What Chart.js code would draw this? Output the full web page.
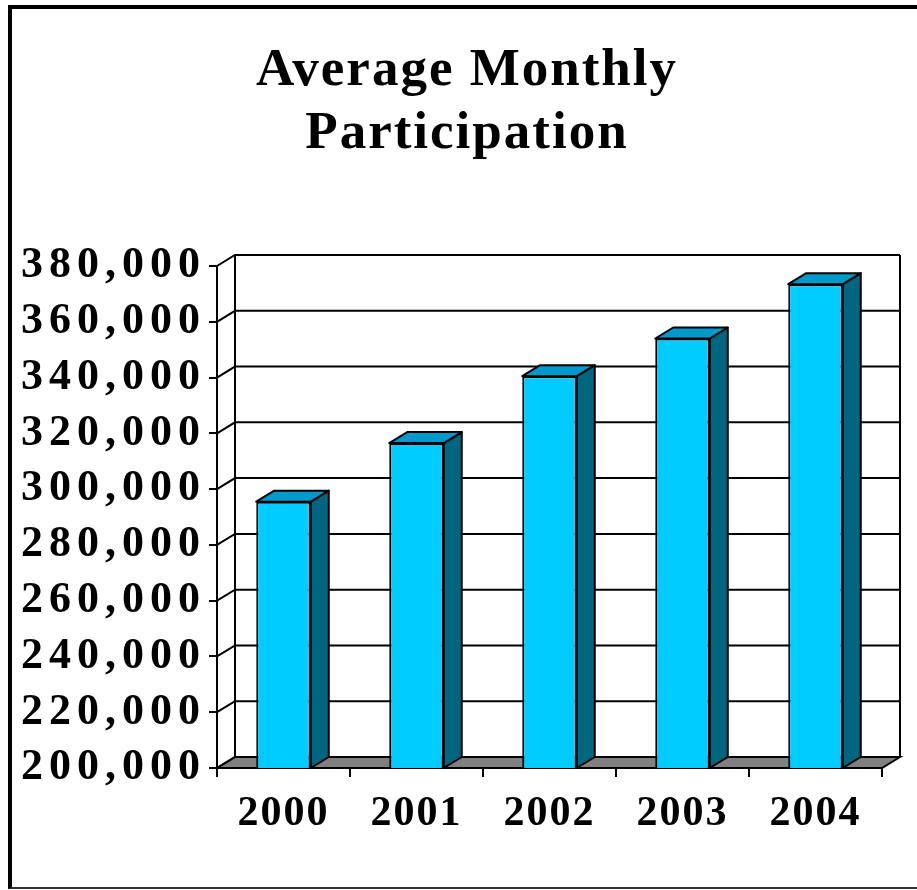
<!DOCTYPE html>
<html>
<head>
<meta charset="utf-8">
<script src="https://cdn.jsdelivr.net/npm/chart.js@4.4.0/dist/chart.umd.min.js"></script>
<style>
  html, body { margin: 0; padding: 0; background: #fff; overflow: hidden; }
  #wrap { position: relative; width: 917px; height: 890px; }
  #frame {
    position: absolute; left: 8px; top: 5px; width: 1000px; height: 878px;
    border-left: 4px solid #000; border-top: 4px solid #000; border-bottom: 2px solid #333;
    pointer-events: none;
  }
</style>
</head>
<body>
<div id="wrap">
  <canvas id="chart" width="917" height="890"></canvas>
  <div id="frame"></div>
</div>
<script>
const years = ["2000", "2001", "2002", "2003", "2004"];
const participation = [295500, 316500, 340500, 354000, 373500];
const yMin = 200000;
const yMax = 380000;
const yStep = 20000;

const depthX = 18;
const depthY = 11;

Chart.defaults.font.family = "'Liberation Serif', 'Times New Roman', serif";
Chart.defaults.color = "#000";

// draws the walls, floor and the sides/tops of the bars
const threeD = {
  id: "threeD",
  beforeDraw(chart) {
    chart.ctx.letterSpacing = "2px";
  },
  beforeDatasetsDraw(chart) {
    const { ctx, chartArea: a, scales: { y } } = chart;
    ctx.save();
    ctx.strokeStyle = "#000";
    ctx.lineWidth = 2;

    // floor
    ctx.fillStyle = "#808080";
    ctx.beginPath();
    ctx.moveTo(a.left, a.bottom);
    ctx.lineTo(a.right, a.bottom);
    ctx.lineTo(a.right + depthX, a.bottom - depthY);
    ctx.lineTo(a.left + depthX, a.bottom - depthY);
    ctx.closePath();
    ctx.fill();
    ctx.stroke();

    // gridlines on side wall + back wall
    y.ticks.forEach((t) => {
      const py = y.getPixelForValue(t.value);
      ctx.beginPath();
      ctx.moveTo(a.left, py);
      ctx.lineTo(a.left + depthX, py - depthY);
      ctx.lineTo(a.right + depthX, py - depthY);
      ctx.stroke();
    });

    ctx.beginPath();
    ctx.moveTo(a.left + depthX, a.top - depthY);
    ctx.lineTo(a.left + depthX, a.bottom - depthY);
    ctx.moveTo(a.right + depthX, a.top - depthY);
    ctx.lineTo(a.right + depthX, a.bottom - depthY);
    ctx.stroke();
    ctx.restore();
  },
  afterDatasetsDraw(chart) {
    const ctx = chart.ctx;
    const bottom = chart.chartArea.bottom;
    ctx.save();
    ctx.strokeStyle = "#000";
    ctx.lineWidth = 2;
    ctx.lineJoin = "round";
    chart.getDatasetMeta(0).data.forEach((bar) => {
      const { x, y, width, base } = bar.getProps(["x", "y", "width", "base"], true);
      const b = Math.min(base, bottom);
      const l = x - width / 2;
      const r = x + width / 2;

      ctx.fillStyle = "#006680";
      ctx.beginPath();
      ctx.moveTo(r, y);
      ctx.lineTo(r + depthX, y - depthY);
      ctx.lineTo(r + depthX, b - depthY);
      ctx.lineTo(r, b);
      ctx.closePath();
      ctx.fill();
      ctx.stroke();

      ctx.fillStyle = "#0099CC";
      ctx.beginPath();
      ctx.moveTo(l, y);
      ctx.lineTo(l + depthX, y - depthY);
      ctx.lineTo(r + depthX, y - depthY);
      ctx.lineTo(r, y);
      ctx.closePath();
      ctx.fill();
      ctx.stroke();
    });
    ctx.restore();
    // y tick labels (z: 1) are drawn after this, wider spaced
    ctx.letterSpacing = "6px";
  },
};

new Chart(document.getElementById("chart"), {
  type: "bar",
  data: {
    labels: years,
    datasets: [
      {
        data: participation,
        backgroundColor: "#00CCFF",
        borderColor: "#000",
        borderWidth: 2,
        borderSkipped: false,
        categoryPercentage: 1,
        barPercentage: 0.41,
      },
    ],
  },
  options: {
    responsive: false,
    animation: false,
    layout: { padding: { left: 17, right: 0, top: 0, bottom: 0 } },
    plugins: {
      legend: { display: false },
      tooltip: { enabled: false },
      title: {
        display: true,
        text: ["Average Monthly", "Participation"],
        color: "#000",
        font: { size: 53, weight: "bold", lineHeight: 63 / 53 },
        padding: { top: 40, bottom: 100 },
      },
    },
    scales: {
      x: {
        grid: { drawOnChartArea: false, tickLength: 9, color: "#000", lineWidth: 2, offset: true },
        border: { display: true, color: "#000", width: 2 },
        ticks: { font: { size: 42, weight: "bold" }, padding: 12, color: "#000" },
        afterFit: (scale) => { scale.height = 122; },
      },
      y: {
        min: yMin,
        max: yMax,
        grid: { drawOnChartArea: false, tickLength: 8, color: "#000", lineWidth: 2 },
        border: { display: true, color: "#000", width: 2 },
        ticks: {
          z: 1,
          stepSize: yStep,
          autoSkip: false,
          font: { size: 44, weight: "bold" },
          padding: 3,
          color: "#000",
          callback: (v) => v.toLocaleString("en-US"),
        },
        afterFit: (scale) => { scale.width = 200; },
      },
      // empty strip on the right, room for the depth of the back wall
      yRight: {
        position: "right",
        display: true,
        grid: { display: false },
        border: { display: false },
        ticks: { display: false },
        afterFit: (scale) => { scale.width = 35; },
      },
    },
  },
  plugins: [threeD],
});
</script>
</body>
</html>
